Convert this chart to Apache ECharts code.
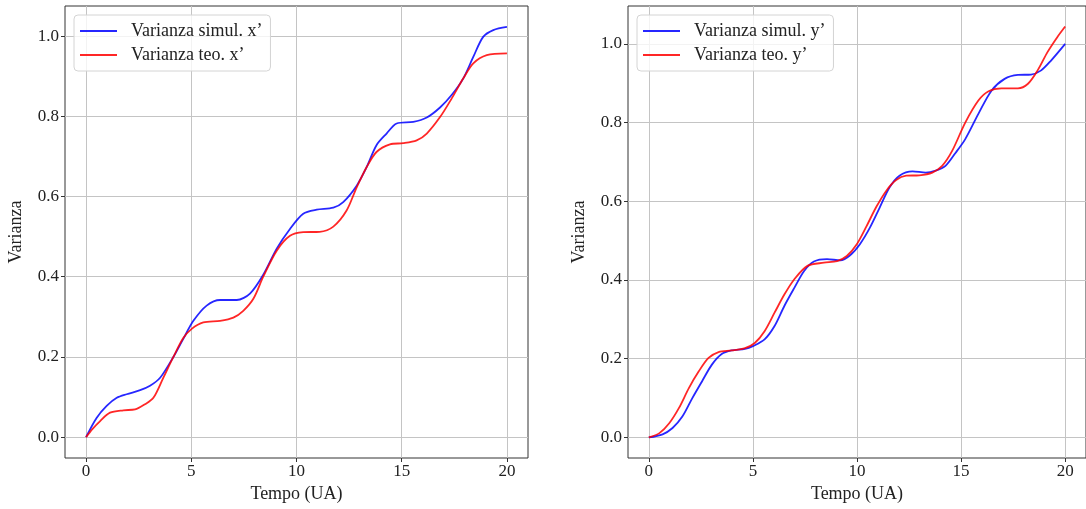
<!DOCTYPE html>
<html>
<head>
<meta charset="utf-8">
<script src="https://cdn.jsdelivr.net/npm/echarts@6/dist/echarts.min.js"></script>
<style>
  html, body { margin: 0; padding: 0; background: #fff; }
  #main { width: 1086px; height: 509px; }
</style>
</head>
<body>
<div id="main"></div>
<script>
var myChart = echarts.init(document.getElementById('main'));

// valori
var tSimX = [0, 0.5, 0.98, 1.46, 1.93, 2.57, 3.04, 3.52, 4.15, 4.62, 5.1, 5.73, 6.37, 7.16, 7.79, 8.42, 9.06, 9.69, 10.32, 10.96, 11.75, 12.22, 12.86, 13.33, 13.8, 14.28, 14.76, 15.55, 16.19, 16.82, 17.37, 17.92, 18.4, 18.87, 19.35, 20];
var vSimX = [0, 0.048, 0.078, 0.098, 0.107, 0.117, 0.128, 0.148, 0.2, 0.245, 0.29, 0.328, 0.342, 0.342, 0.358, 0.405, 0.47, 0.519, 0.557, 0.567, 0.572, 0.586, 0.627, 0.673, 0.728, 0.757, 0.782, 0.786, 0.797, 0.822, 0.853, 0.894, 0.948, 0.998, 1.015, 1.023];

var tTeoX = [0, 0.3, 0.67, 1.14, 1.77, 2.33, 2.8, 3.2, 3.67, 4.15, 4.62, 5.02, 5.57, 6.37, 7.0, 7.47, 7.95, 8.42, 9.06, 9.69, 10.32, 11.1, 11.75, 12.38, 12.86, 13.33, 13.8, 14.44, 15.07, 15.71, 16.19, 16.82, 17.37, 17.92, 18.4, 19.04, 20];
var vTeoX = [0, 0.02, 0.04, 0.061, 0.067, 0.069, 0.082, 0.098, 0.148, 0.2, 0.247, 0.27, 0.286, 0.29, 0.298, 0.315, 0.345, 0.4, 0.465, 0.502, 0.511, 0.512, 0.525, 0.565, 0.623, 0.673, 0.711, 0.73, 0.733, 0.74, 0.757, 0.798, 0.844, 0.894, 0.932, 0.9525, 0.957];

var tSimY = [0, 0.66, 1.14, 1.61, 2.09, 2.56, 3.03, 3.5, 3.98, 4.62, 5.0, 5.56, 6.04, 6.51, 6.99, 7.46, 7.93, 8.56, 9.2, 9.67, 10.14, 10.62, 11.09, 11.56, 12.04, 12.67, 13.3, 13.78, 14.25, 14.72, 15.2, 15.83, 16.46, 17.09, 17.73, 18.36, 18.83, 19.31, 20];
var vSimY = [0, 0.008, 0.024, 0.053, 0.1, 0.143, 0.185, 0.212, 0.221, 0.225, 0.232, 0.249, 0.283, 0.334, 0.38, 0.423, 0.447, 0.453, 0.45, 0.463, 0.491, 0.533, 0.584, 0.635, 0.665, 0.676, 0.673, 0.678, 0.69, 0.722, 0.758, 0.822, 0.881, 0.911, 0.921, 0.922, 0.932, 0.957, 1.0];

var tTeoY = [0, 0.51, 0.98, 1.45, 1.93, 2.4, 2.87, 3.35, 3.98, 4.62, 5.09, 5.56, 6.04, 6.51, 6.99, 7.62, 8.41, 9.04, 9.51, 9.99, 10.46, 10.93, 11.41, 11.88, 12.36, 12.99, 13.62, 14.09, 14.57, 15.2, 15.83, 16.3, 16.94, 17.73, 18.2, 18.67, 19.15, 19.62, 20];
var vTeoY = [0, 0.011, 0.036, 0.075, 0.126, 0.168, 0.202, 0.217, 0.221, 0.227, 0.24, 0.27, 0.317, 0.363, 0.402, 0.436, 0.444, 0.448, 0.461, 0.491, 0.537, 0.586, 0.627, 0.654, 0.665, 0.666, 0.673, 0.69, 0.728, 0.8, 0.856, 0.879, 0.887, 0.887, 0.898, 0.932, 0.979, 1.017, 1.044];

var xTicks = [0, 5, 10, 15, 20];
var yTicks = [0, 0.2, 0.4, 0.6, 0.8, 1.0];

var font = '"Liberation Serif", "DejaVu Serif", serif';
var blue = 'rgba(0,0,255,0.85)';
var red = 'rgba(255,0,0,0.85)';

function zip(t, v) {
    return t.map(function (x, i) { return [x, v[i]]; });
}

function xAxis(idx) {
    return {
        type: 'value', gridIndex: idx, min: -1, max: 21,
        name: 'Tempo (UA)', nameLocation: 'middle', nameGap: 27,
        nameTextStyle: { fontFamily: font, fontSize: 18, color: '#222' },
        axisLine: { show: false, onZero: false },
        axisTick: { show: true, length: 4, customValues: xTicks, lineStyle: { color: '#333' } },
        axisLabel: { customValues: xTicks, fontFamily: font, fontSize: 17, color: '#222', margin: 5 },
        splitLine: { show: true, lineStyle: { color: '#c4c4c4', width: 1 } }
    };
}

function yAxis(idx, min, max) {
    return {
        type: 'value', gridIndex: idx, min: min, max: max,
        name: 'Varianza', nameLocation: 'middle', nameGap: 40,
        nameTextStyle: { fontFamily: font, fontSize: 18, color: '#222' },
        axisLine: { show: false, onZero: false },
        axisTick: { show: true, length: 4, customValues: yTicks, lineStyle: { color: '#333' } },
        axisLabel: {
            customValues: yTicks, fontFamily: font, fontSize: 17, color: '#222', margin: 6,
            formatter: function (v) { return v.toFixed(1); }
        },
        splitLine: { show: true, lineStyle: { color: '#c4c4c4', width: 1 } }
    };
}

function legend(left, names) {
    return {
        orient: 'vertical', left: left, top: 15,
        data: names, icon: 'rect', itemWidth: 37, itemHeight: 2, itemGap: 6,
        padding: [7, 8, 7, 6],
        borderColor: '#d4d4d4', borderWidth: 1, borderRadius: 4,
        backgroundColor: 'rgba(255,255,255,0.8)',
        textStyle: { fontFamily: font, fontSize: 18, color: '#222', lineHeight: 17, padding: [0, 0, 0, 9] }
    };
}

function line(name, xi, data, color) {
    return {
        name: name, type: 'line', xAxisIndex: xi, yAxisIndex: xi,
        data: data, showSymbol: false, smooth: 0.3, animation: false,
        lineStyle: { color: color, width: 1.8 }, itemStyle: { color: color }
    };
}

var option = {
    animation: false,
    grid: [
        { left: 65, top: 6, width: 463, height: 452, show: true, borderColor: '#333', borderWidth: 1 },
        { left: 628, top: 6, width: 463, height: 452, show: true, borderColor: '#333', borderWidth: 1 }
    ],
    legend: [
        legend(74, ['Varianza simul. x’', 'Varianza teo. x’']),
        legend(637, ['Varianza simul. y’', 'Varianza teo. y’'])
    ],
    xAxis: [xAxis(0), xAxis(1)],
    yAxis: [yAxis(0, -0.052, 1.075), yAxis(1, -0.0522, 1.0962)],
    series: [
        line('Varianza simul. x’', 0, zip(tSimX, vSimX), blue),
        line('Varianza teo. x’', 0, zip(tTeoX, vTeoX), red),
        line('Varianza simul. y’', 1, zip(tSimY, vSimY), blue),
        line('Varianza teo. y’', 1, zip(tTeoY, vTeoY), red)
    ]
};

myChart.setOption(option);
</script>
</body>
</html>
